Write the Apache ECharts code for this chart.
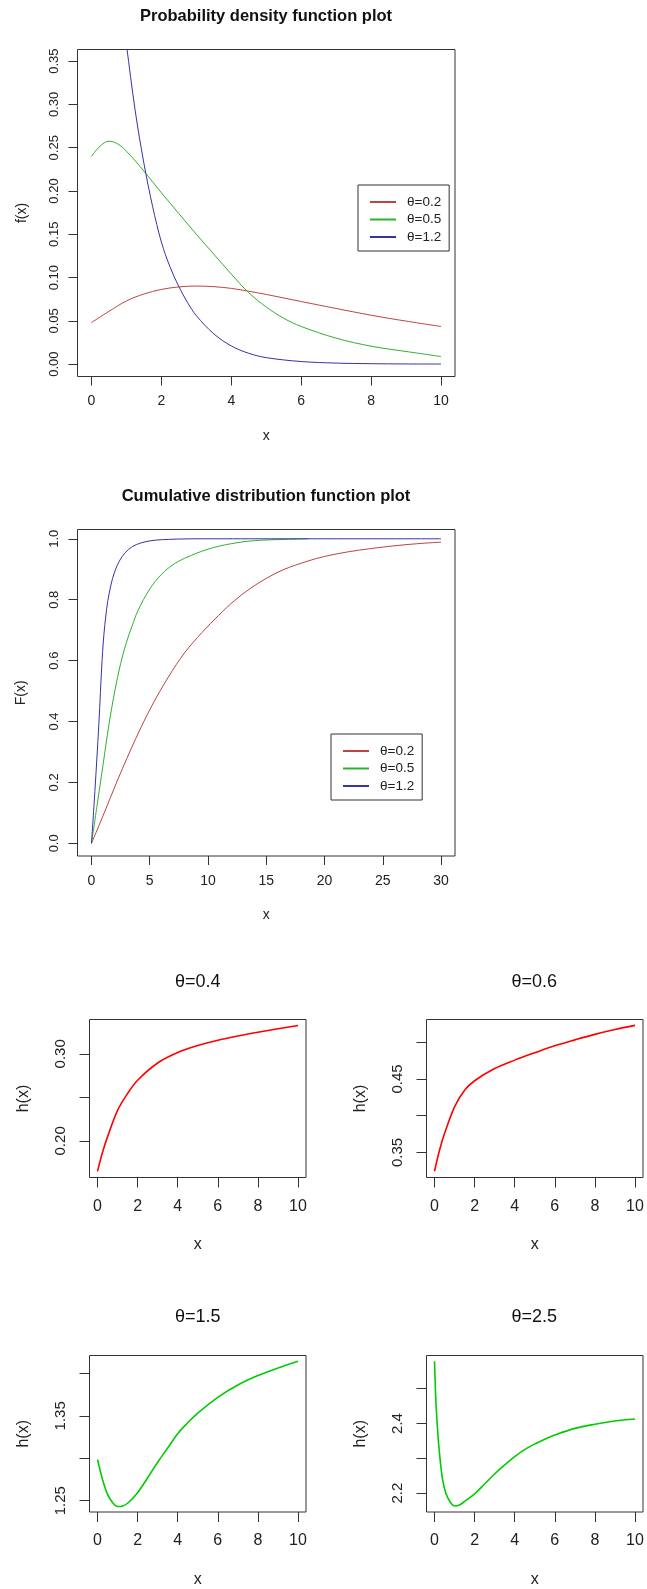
<!DOCTYPE html>
<html>
<head>
<meta charset="utf-8">
<script src="https://cdn.jsdelivr.net/npm/echarts@6/dist/echarts.min.js"></script>
<style>
html, body { margin: 0; padding: 0; background: #fff; }
#main { width: 647px; height: 1589px; }
</style>
</head>
<body>
<div id="main"></div>
<script>
// ---- 数据 ----
// 密度函数 f(x)
var pdfRedX = [0, 0.5, 1, 1.5, 2, 2.5, 3, 3.5, 4, 4.5, 5, 6, 7, 8, 9, 10];
var pdfRedY = [0.048, 0.061, 0.073, 0.081, 0.0863, 0.0892, 0.0902, 0.0895, 0.0875, 0.0842, 0.0805, 0.0723, 0.0643, 0.0565, 0.0497, 0.0435];
var pdfGreenX = [0, 0.25, 0.5, 0.75, 1, 1.5, 2, 2.5, 3, 3.5, 4, 4.5, 5, 5.5, 6, 7, 8, 9, 10];
var pdfGreenY = [0.240, 0.252, 0.2575, 0.2545, 0.246, 0.223, 0.198, 0.174, 0.150, 0.127, 0.104, 0.0825, 0.066, 0.053, 0.0435, 0.030, 0.0207, 0.0146, 0.0088];
var pdfBlueX = [0.8, 1, 1.25, 1.5, 1.75, 2, 2.25, 2.5, 2.75, 3, 3.5, 4, 4.5, 5, 6, 7, 8, 9, 10];
var pdfBlueY = [0.43, 0.369, 0.293, 0.232, 0.182, 0.141, 0.112, 0.0895, 0.071, 0.056, 0.035, 0.021, 0.0125, 0.0075, 0.003, 0.0012, 0.0005, 0.0002, 0.0001];

// 分布函数 F(x)
var cdfRedX = [0, 0.9, 2.3, 3.8, 5.2, 6.6, 8, 9.5, 10.9, 12.3, 13.6, 15, 16.5, 18.5, 20, 22, 24, 26, 28, 30];
var cdfRedY = [0, 0.082, 0.213, 0.344, 0.453, 0.546, 0.626, 0.693, 0.748, 0.798, 0.836, 0.870, 0.899, 0.926, 0.942, 0.957, 0.968, 0.977, 0.984, 0.989];
var cdfGreenX = [0, 0.5, 1, 1.5, 2, 2.5, 3, 3.5, 4, 5, 6, 7, 8, 10, 12, 14, 18.6];
var cdfGreenY = [0, 0.13, 0.26, 0.39, 0.50, 0.59, 0.66, 0.715, 0.765, 0.835, 0.883, 0.915, 0.936, 0.966, 0.984, 0.994, 1.0];
var cdfBlueX = [0, 0.29, 0.63, 0.91, 1.14, 1.54, 2.2, 3.2, 4.6, 6.6, 10, 30];
var cdfBlueY = [0, 0.17, 0.39, 0.6, 0.715, 0.825, 0.912, 0.966, 0.99, 0.998, 1.0, 1.0];

// 失效率 h(x)
var hX = [0, 0.25, 0.5, 1, 1.5, 2, 3, 4, 5, 6, 7, 8, 9, 10];
var h04 = [0.165, 0.187, 0.2046, 0.235, 0.2544, 0.2697, 0.2895, 0.3015, 0.3095, 0.3157, 0.3205, 0.3248, 0.3288, 0.3326];
var h06 = [0.3245, 0.353, 0.3757, 0.412, 0.4346, 0.4475, 0.464, 0.4755, 0.4855, 0.4950, 0.5030, 0.5105, 0.5170, 0.5227];
var h15X = [0, 0.25, 0.5, 0.75, 1, 1.25, 1.5, 2, 2.5, 3, 3.5, 4, 4.5, 5, 6, 7, 8, 9, 10];
var h15 = [1.2985, 1.275, 1.2574, 1.2477, 1.243, 1.2437, 1.2469, 1.2594, 1.277, 1.2953, 1.3121, 1.329, 1.3418, 1.3532, 1.3719, 1.3864, 1.3975, 1.4065, 1.4145];
var h25X = [0, 0.05, 0.1, 0.2, 0.3, 0.4, 0.5, 0.6, 0.8, 1, 1.25, 1.5, 2, 2.5, 3, 3.5, 4, 4.5, 5, 5.5, 6, 7, 8, 9, 10];
var h25 = [2.579, 2.49, 2.43, 2.345, 2.285, 2.24, 2.213, 2.194, 2.173, 2.163, 2.166, 2.176, 2.198, 2.226, 2.255, 2.281, 2.305, 2.325, 2.341, 2.355, 2.367, 2.386, 2.398, 2.407, 2.413];

// 刻度
var xTicks10 = [0, 2, 4, 6, 8, 10];
var xTicks30 = [0, 5, 10, 15, 20, 25, 30];
var pdfYTicks = [0, 0.05, 0.10, 0.15, 0.20, 0.25, 0.30, 0.35];
var cdfYTicks = [0, 0.2, 0.4, 0.6, 0.8, 1.0];
var h04Ticks = [0.20, 0.25, 0.30];
var h04Labels = [0.20, 0.30];
var h06Ticks = [0.35, 0.40, 0.45, 0.50];
var h06Labels = [0.35, 0.45];
var h15Ticks = [1.25, 1.30, 1.35, 1.40];
var h15Labels = [1.25, 1.35];
var h25Ticks = [2.2, 2.3, 2.4, 2.5];
var h25Labels = [2.2, 2.4];

var legendNames = ['θ=0.2', 'θ=0.5', 'θ=1.2'];

var FONT = '"Liberation Sans", Arial, Helvetica, sans-serif';
var TXT = '#222';

function pairs(xs, ys) {
	return xs.map(function (x, i) { return [x, ys[i]]; });
}

//网格 (R 的 plot 边框)
function gridOf(left, top, width, height) {
	return {
		left: left, top: top, width: width, height: height,
		show: true, borderColor: '#333', borderWidth: 1, backgroundColor: 'transparent'
	};
}

//x轴
function xAxisOf(gi, min, max, ticks, fs, margin, nameGap) {
	var big = fs > 14;
	return {
		type: 'value', gridIndex: gi, min: min, max: max,
		axisLine: { show: false, onZero: false },
		axisTick: { show: true, length: big ? 10 : 9, customValues: ticks, lineStyle: { color: '#333' } },
		axisLabel: {
			customValues: ticks, margin: margin, fontSize: fs, color: TXT, fontFamily: FONT,
			formatter: function (v) { return String(v); }
		},
		splitLine: { show: false },
		name: 'x', nameLocation: 'middle', nameGap: nameGap,
		nameTextStyle: { fontSize: fs, color: TXT, fontFamily: FONT }
	};
}

//y轴 (标签竖排)
function yAxisOf(gi, min, max, ticks, labels, digits, fs, margin, name, nameGap) {
	var big = fs > 14;
	return {
		type: 'value', gridIndex: gi, min: min, max: max,
		axisLine: { show: false, onZero: false },
		axisTick: { show: true, length: big ? 10 : 9, customValues: ticks, lineStyle: { color: '#333' } },
		axisLabel: {
			customValues: labels, rotate: 90, margin: margin, fontSize: big ? 15 : 13, color: TXT, fontFamily: FONT,
			formatter: function (v) { return v.toFixed(digits); }
		},
		splitLine: { show: false },
		name: name, nameLocation: 'middle', nameGap: nameGap, nameRotate: 90,
		nameTextStyle: { fontSize: fs, color: TXT, fontFamily: FONT }
	};
}

function lineSeries(name, gi, xs, ys, color, width) {
	return {
		type: 'line', name: name, xAxisIndex: gi, yAxisIndex: gi,
		data: pairs(xs, ys),
		symbol: 'none', smooth: 0.35, clip: true, silent: true,
		lineStyle: { color: color, width: width },
		itemStyle: { color: color }
	};
}

function titleOf(text, x, y, fs, bold) {
	return {
		text: text, left: x, top: y, padding: 0,
		textAlign: 'center', textVerticalAlign: 'middle',
		textStyle: { fontSize: fs, fontWeight: bold ? 'bold' : 'normal', color: '#111', fontFamily: FONT }
	};
}

//图例: 细矩形当作线段
function legendOf(left, top) {
	return {
		data: legendNames, orient: 'vertical', left: left, top: top,
		padding: [10, 8, 7, 12], icon: 'rect', itemWidth: 26, itemHeight: 2, itemGap: 3.5,
		borderColor: '#333', borderWidth: 1, backgroundColor: '#fff',
		selectedMode: false,
		textStyle: { fontSize: 13.5, lineHeight: 14, color: TXT, fontFamily: FONT, padding: [0, 0, 0, 6] }
	};
}

var RED = '#bc4442', GREEN = '#30b030', BLUE = '#3434a4';
var HRED = '#ff0000', HGREEN = '#00cc00';

var option = {
	animation: false,
	backgroundColor: '#fff',
	textStyle: { fontFamily: FONT },
	title: [
		titleOf('Probability density function plot', 266, 16, 16.5, true),
		titleOf('Cumulative distribution function plot', 266, 496, 16.5, true),
		titleOf('θ=0.4', 197.7, 981.7, 18, false),
		titleOf('θ=0.6', 534.3, 981.7, 18, false),
		titleOf('θ=1.5', 197.7, 1316.7, 18, false),
		titleOf('θ=2.5', 534.3, 1316.7, 18, false)
	],
	legend: [legendOf(358, 185), legendOf(331, 734)],
	grid: [
		gridOf(77.5, 49.5, 377.5, 327),
		gridOf(77.5, 529.5, 377.5, 326.5),
		gridOf(89.5, 1019.5, 216.5, 158),
		gridOf(426.5, 1019.5, 216.5, 158),
		gridOf(89.5, 1355.5, 216.5, 157),
		gridOf(426.5, 1355.5, 216.5, 157)
	],
	xAxis: [
		xAxisOf(0, -0.4, 10.4, xTicks10, 14, 18, 53),
		xAxisOf(1, -1.2, 31.2, xTicks30, 14, 18, 52),
		xAxisOf(2, -0.4, 10.4, xTicks10, 16, 21, 59),
		xAxisOf(3, -0.4, 10.4, xTicks10, 16, 21, 59),
		xAxisOf(4, -0.4, 10.4, xTicks10, 16, 21, 60),
		xAxisOf(5, -0.4, 10.4, xTicks10, 16, 21, 60)
	],
	yAxis: [
		yAxisOf(0, -0.0143, 0.3635, pdfYTicks, pdfYTicks, 2, 14, 17, 'f(x)', 48),
		yAxisOf(1, -0.0416, 1.0305, cdfYTicks, cdfYTicks, 1, 14, 17, 'F(x)', 49),
		yAxisOf(2, 0.1579, 0.3395, h04Ticks, h04Labels, 2, 16, 21, 'h(x)', 58),
		yAxisOf(3, 0.316, 0.5307, h06Ticks, h06Labels, 2, 16, 21, 'h(x)', 58),
		yAxisOf(4, 1.2366, 1.4212, h15Ticks, h15Labels, 2, 16, 21, 'h(x)', 58),
		yAxisOf(5, 2.1457, 2.5954, h25Ticks, h25Labels, 1, 16, 21, 'h(x)', 58)
	],
	series: [
		lineSeries('θ=0.2', 0, pdfRedX, pdfRedY, RED, 1),
		lineSeries('θ=0.5', 0, pdfGreenX, pdfGreenY, GREEN, 1),
		lineSeries('θ=1.2', 0, pdfBlueX, pdfBlueY, BLUE, 1),
		lineSeries('θ=0.2', 1, cdfRedX, cdfRedY, RED, 1),
		lineSeries('θ=0.5', 1, cdfGreenX, cdfGreenY, GREEN, 1),
		lineSeries('θ=1.2', 1, cdfBlueX, cdfBlueY, BLUE, 1),
		lineSeries('θ=0.4', 2, hX, h04, HRED, 1.6),
		lineSeries('θ=0.6', 3, hX, h06, HRED, 1.6),
		lineSeries('θ=1.5', 4, h15X, h15, HGREEN, 1.6),
		lineSeries('θ=2.5', 5, h25X, h25, HGREEN, 1.6)
	]
};

var myChart = echarts.init(document.getElementById('main'));
myChart.setOption(option);
</script>
</body>
</html>
